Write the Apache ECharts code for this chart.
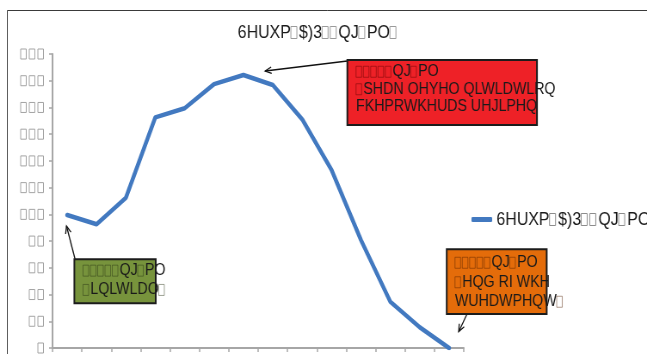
<!DOCTYPE html>
<html>
<head>
<meta charset="utf-8">
<script src="https://cdn.jsdelivr.net/npm/echarts@6/dist/echarts.min.js"></script>
<style>
  html, body { margin: 0; padding: 0; background: #fff; overflow: hidden; }
  #frame { width: 647px; height: 354px; overflow: hidden; position: relative; }
  /* the chart is laid out wide and squeezed horizontally, like the exported figure */
  #chart { width: 752px; height: 354px; transform: scaleX(0.86037); transform-origin: 0 0; }
</style>
</head>
<body>
<div id="frame"><div id="chart"></div></div>
<script>
// ---- data ----
const CATEGORIES = ['1', '2', '3', '4', '5', '6', '7', '8', '9', '10', '11', '12', '13', '14'];
const AFP = [99.5, 92.6, 112.5, 172.6, 179.4, 197.5, 204.3, 196.8, 171.1, 133.2, 80.8, 34.6, 15.5, 0];
const Y_MIN = 0;
const Y_MAX = 220;
const Y_STEP = 20;

// ---- texts (□ marks a glyph the embedded font could not show) ----
const TITLE = '6HUXP□$)3□□QJ□PO□';
const SERIES_NAME = '6HUXP□$)3□□QJ□PO□';
const NOTE_START = ['□□□□□QJ□PO', '□LQLWLDO□'];
const NOTE_PEAK = ['□□□□□QJ□PO', '□SHDN OHYHO QLWLDWLRQ', 'FKHPRWKHUDS UHJLPHQ'];
const NOTE_END = ['□□□□□QJ□PO', '□HQG RI WKH', 'WUHDWPHQW□'];
const START_INDEX = 0;
const PEAK_INDEX = 7;
const END_INDEX = 13;

const FONT = 'Liberation Sans, Arial, sans-serif';
const INK = '#1a1a1a';
const LINE_BLUE = '#4279c0';

// hollow boxes followed by a narrow gap, built as rich-text tokens
function boxify(str, box, gap) {
  return str.replace(/□/g, '{' + box + '|□}{' + gap + '| }');
}
function boxStyle(border, w, h) {
  return { width: w, height: h, borderColor: border, borderWidth: 1, color: 'rgba(0,0,0,0)', fontSize: 6 };
}

const chart = echarts.init(document.getElementById('chart'), null, { renderer: 'canvas' });

chart.setOption({
  animation: false,
  backgroundColor: '#ffffff',
  grid: { left: 61, right: 213, top: 54, bottom: 6, containLabel: false },
  legend: {
    show: true,
    left: 548,
    top: 210,
    padding: 0,
    itemWidth: 24,
    itemHeight: 5,
    icon: 'roundRect',
    data: [SERIES_NAME],
    formatter: name => boxify(name, 'q', 'g'),
    textStyle: {
      fontFamily: FONT, fontSize: 18.5, color: INK,
      rich: { q: boxStyle('#8c8c8c', 7, 12), g: { width: 3, fontSize: 6 } }
    }
  },
  xAxis: {
    type: 'category',
    data: CATEGORIES,
    boundaryGap: true,
    axisLine: { show: true, lineStyle: { color: '#a6a6a6', width: 2 } },
    axisTick: { show: true, length: 4, lineStyle: { color: '#a6a6a6', width: 1.5 } },
    axisLabel: { show: false },
    splitLine: { show: false }
  },
  yAxis: {
    type: 'value',
    min: Y_MIN,
    max: Y_MAX,
    interval: Y_STEP,
    axisLine: { show: true, lineStyle: { color: '#a6a6a6', width: 2 } },
    axisTick: { show: true, length: 4, lineStyle: { color: '#a6a6a6', width: 1.5 } },
    splitLine: { show: false },
    axisLabel: {
      margin: 7,
      formatter: v => boxify(String(v).replace(/\d/g, '□'), 'y', 'yg'),
      rich: { y: boxStyle('#a3a3a3', 6.5, 10), yg: { width: 3.5, fontSize: 6 } }
    }
  },
  series: [{
    name: SERIES_NAME,
    type: 'line',
    data: AFP,
    symbol: 'none',
    smooth: false,
    itemStyle: { color: LINE_BLUE },
    lineStyle: { color: LINE_BLUE, width: 4.5, cap: 'round', join: 'round' },
    z: 3
  }]
});

// ---- callouts ----
function noteBox(x, y, w, h, fillColor) {
  return {
    type: 'rect', z: 20,
    shape: { x: x, y: y, width: w, height: h },
    style: { fill: fillColor, stroke: '#1c1c1c', lineWidth: 2 }
  };
}
function noteText(x, y, lines, lineHeight, boxBorder) {
  return {
    type: 'text', z: 21, x: x, y: y,
    style: {
      text: lines.map(l => boxify(l, 'q', 'g')).join('\n'),
      fontFamily: FONT, fontSize: 16.5, fill: INK,
      lineHeight: lineHeight, align: 'left', verticalAlign: 'top',
      rich: {
        q: { width: 6.5, height: 11, borderColor: boxBorder, borderWidth: 1, fill: 'rgba(0,0,0,0)', fontSize: 6, lineHeight: lineHeight },
        g: { width: 2, fontSize: 6, lineHeight: lineHeight }
      }
    }
  };
}
function arrow(from, to) {
  const ang = Math.atan2(to[1] - from[1], to[0] - from[0]);
  const len = 8, spread = 0.42;
  const p1 = [to[0] - len * Math.cos(ang - spread), to[1] - len * Math.sin(ang - spread)];
  const p2 = [to[0] - len * Math.cos(ang + spread), to[1] - len * Math.sin(ang + spread)];
  return [
    { type: 'line', z: 19, shape: { x1: from[0], y1: from[1], x2: to[0], y2: to[1] },
      style: { stroke: '#111', lineWidth: 1.3 } },
    { type: 'polyline', z: 19, shape: { points: [p1, to, p2] },
      style: { stroke: '#111', lineWidth: 1.3, fill: null } }
  ];
}

const pStart = chart.convertToPixel({ seriesIndex: 0 }, [START_INDEX, AFP[START_INDEX]]);
const pPeak = chart.convertToPixel({ seriesIndex: 0 }, [PEAK_INDEX, AFP[PEAK_INDEX]]);
const pEnd = chart.convertToPixel({ seriesIndex: 0 }, [END_INDEX, AFP[END_INDEX]]);

const graphics = [
  // outer chart border
  { type: 'rect', z: 1, shape: { x: 8.5, y: 10.5, width: 900, height: 500 },
    style: { fill: null, stroke: '#3a3a3a', lineWidth: 1 } },
  // title, centred over the whole chart area
  { type: 'text', z: 5, x: 369.5, y: 32.5,
    style: {
      text: boxify(TITLE, 'q', 'g'), fontFamily: FONT, fontSize: 18.5, fill: INK,
      align: 'center', verticalAlign: 'middle',
      rich: { q: { width: 7, height: 12, borderColor: '#9a9a9a', borderWidth: 1, fill: 'rgba(0,0,0,0)', fontSize: 6 },
              g: { width: 2.5, fontSize: 6 } }
    } },
  noteBox(403.7, 60, 220.4, 65, '#ee2127'),
  noteText(413.8, 63, NOTE_PEAK, 17.5, 'rgba(90,0,0,0.45)'),
  noteBox(86.4, 259.3, 94.6, 44, '#77933c'),
  noteText(96.5, 261, NOTE_START, 19.3, 'rgba(40,50,20,0.45)'),
  noteBox(519.2, 249.3, 116.2, 64.7, '#e46c0a'),
  noteText(528.8, 253, NOTE_END, 19.5, 'rgba(80,30,0,0.45)'),
  ...arrow([87.2, 259], [pStart[0] - 0.8, pStart[1] + 11]),
  ...arrow([403.7, 61], [pPeak[0] - 8.9, pPeak[1] - 14]),
  ...arrow([542.8, 314], [pEnd[0] + 11.2, pEnd[1] - 16.3])
];

chart.setOption({ graphic: graphics });
</script>
</body>
</html>
